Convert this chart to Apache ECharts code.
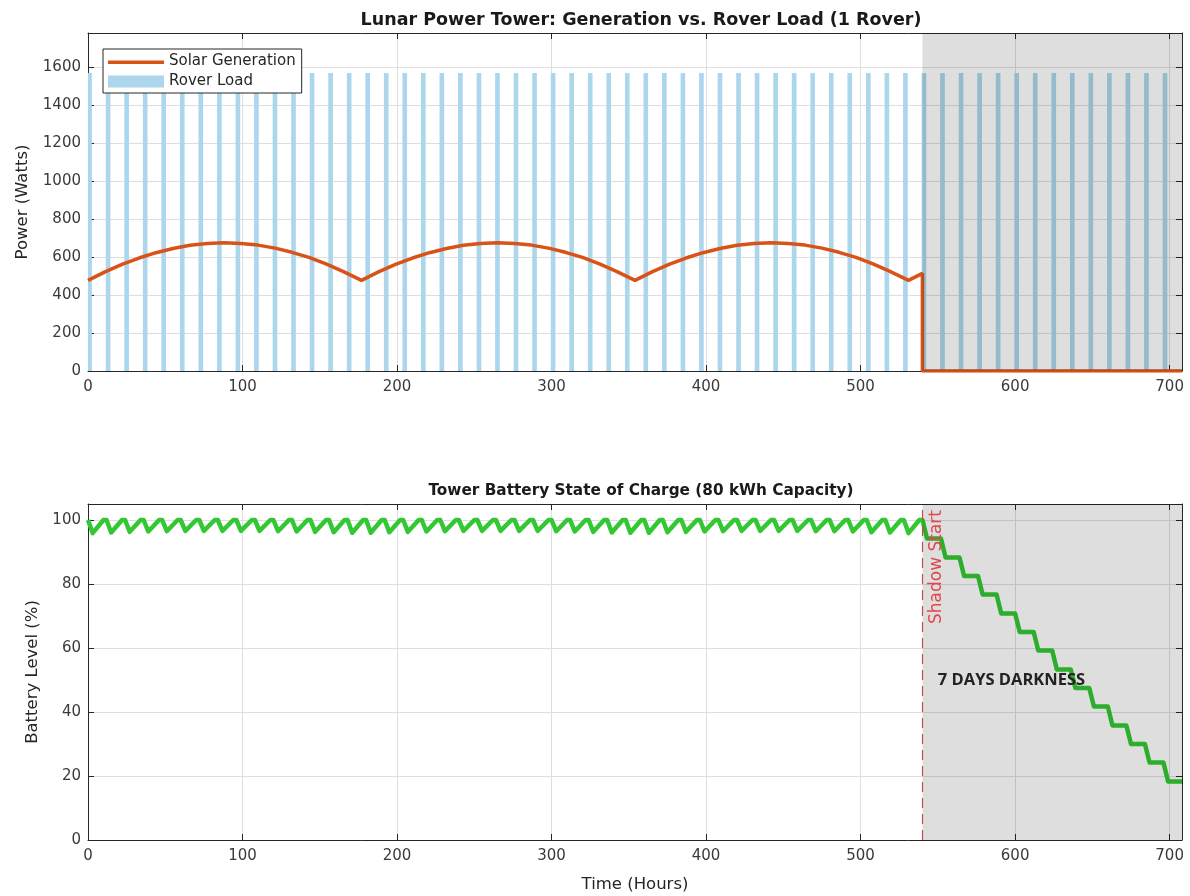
<!DOCTYPE html>
<html>
<head>
<meta charset="utf-8">
<script src="https://cdn.jsdelivr.net/npm/echarts@6/dist/echarts.min.js"></script>
<style>
html,body{margin:0;padding:0;background:#fff;}
#chart{width:1190px;height:896px;}
</style>
</head>
<body>
<div id="chart"></div>
<script>
// ---------- data ----------
const solarHours = [0,11,22,33,44,55,66,77,88,99,110,121,132,143,154,165,177,
  188,199,210,221,232,243,254,265,276,287,298,309,320,331,342,354,
  365,376,387,398,409,420,431,442,453,464,475,486,497,508,519,531,
  540,540,708];
const solarWatts = [477,522,561,595,623,645,662,672,675,672,663,647,625,598,564,525,477,
  522,561,595,623,645,662,672,675,672,663,647,625,598,564,525,477,
  522,561,595,623,645,662,672,675,672,663,647,625,598,564,525,477,
  514,0,0];

const loadHours = [0,12,24,36,48,60,72,84,96,108,120,132,144,156,168,180,192,204,216,228,
  240,252,264,276,288,300,312,324,336,348,360,372,384,396,408,420,432,444,456,468,
  480,492,504,516,528,540,552,564,576,588,600,612,624,636,648,660,672,684,696];
const loadWatts = [1570,1570,1570,1570,1570,1570,1570,1570,1570,1570,1570,1570,1570,1570,1570,
  1570,1570,1570,1570,1570,1570,1570,1570,1570,1570,1570,1570,1570,1570,1570,
  1570,1570,1570,1570,1570,1570,1570,1570,1570,1570,1570,1570,1570,1570,1570,
  1570,1570,1570,1570,1570,1570,1570,1570,1570,1570,1570,1570,1570,1570];
const loadPulse = [-0.5, 2.5]; // pulse extent relative to its hour

const batteryHours = [0,3,10, 12,15,22, 24,27,34, 36,39,46, 48,51,58, 60,63,70, 72,75,82, 84,87,94,
  96,99,106, 108,111,118, 120,123,130, 132,135,142, 144,147,154, 156,159,166, 168,171,178,
  180,183,190, 192,195,202, 204,207,214, 216,219,226, 228,231,238, 240,243,250, 252,255,262,
  264,267,274, 276,279,286, 288,291,298, 300,303,310, 312,315,322, 324,327,334, 336,339,346,
  348,351,358, 360,363,370, 372,375,382, 384,387,394, 396,399,406, 408,411,418, 420,423,430,
  432,435,442, 444,447,454, 456,459,466, 468,471,478, 480,483,490, 492,495,502, 504,507,514,
  516,519,526, 528,531,538,
  540, 543,552, 555,564, 567,576, 579,588, 591,600, 603,612, 615,624, 627,636, 639,648,
  651,660, 663,672, 675,684, 687,696, 699,708];
const batteryLevel = [100,95.9,100, 100,96.1,100, 100,96.3,100, 100,96.4,100, 100,96.5,100,
  100,96.6,100, 100,96.6,100, 100,96.6,100, 100,96.6,100, 100,96.6,100, 100,96.5,100,
  100,96.4,100, 100,96.3,100, 100,96.2,100, 100,96.0,100, 100,96.0,100, 100,96.2,100,
  100,96.3,100, 100,96.4,100, 100,96.5,100, 100,96.6,100, 100,96.6,100, 100,96.6,100,
  100,96.6,100, 100,96.6,100, 100,96.5,100, 100,96.4,100, 100,96.3,100, 100,96.1,100,
  100,96.0,100, 100,96.0,100, 100,96.2,100, 100,96.3,100, 100,96.4,100, 100,96.5,100,
  100,96.6,100, 100,96.6,100, 100,96.6,100, 100,96.6,100, 100,96.5,100, 100,96.5,100,
  100,96.4,100, 100,96.2,100, 100,96.1,100, 100,95.9,100,
  100, 94.2,94.2, 88.3,88.3, 82.5,82.5, 76.7,76.7, 70.8,70.8, 65.0,65.0, 59.2,59.2,
  53.3,53.3, 47.5,47.5, 41.7,41.7, 35.8,35.8, 30.0,30.0, 24.2,24.2, 18.3,18.3];

const shadowStart = 540;
const periodEnd = 708;
const darknessLabel = {hour: 550, level: 50, text: '7 DAYS DARKNESS'};
const shadowLabel = {hour: 549, level: 67.5, text: 'Shadow Start'};

const xTickStep = 100;
const powerMax = 1780, powerStep = 200;
const levelMax = 105, levelStep = 20;

// ---------- style ----------
const AX = '#262626';
const FONT = 'DejaVu Sans';
const GRID_C = '#dedede';
const SHADE = 'rgba(0,0,0,0.13)';
const LOAD_C = '#abd6eb';

function zip(a, b) { return a.map((v, i) => [v, b[i]]); }
const plain = v => String(v);

function mainX(gridIndex, showName) {
  return {
    type: 'value', gridIndex, min: 0, max: periodEnd, interval: xTickStep,
    axisLine: {show: true, onZero: false, lineStyle: {color: AX, width: 1}},
    axisTick: {show: true, inside: true, length: 6, lineStyle: {color: AX}},
    axisLabel: {color: '#3a3a3a', fontFamily: FONT, fontSize: 15, margin: 9, showMaxLabel: false, formatter: plain},
    splitLine: {show: true, lineStyle: {color: GRID_C, width: 1}},
    name: showName ? 'Time (Hours)' : '', nameLocation: 'middle', nameGap: 36,
    nameTextStyle: {color: AX, fontFamily: FONT, fontSize: 16.5}
  };
}
function boxX(gridIndex) {
  return {
    type: 'value', gridIndex, position: 'top', min: 0, max: periodEnd, interval: xTickStep,
    axisLine: {show: true, onZero: false, lineStyle: {color: AX, width: 1}},
    axisTick: {show: true, inside: true, length: 6, lineStyle: {color: AX}},
    axisLabel: {show: false}, splitLine: {show: false}
  };
}
function mainY(gridIndex, max, step, name, gap) {
  return {
    type: 'value', gridIndex, min: 0, max, interval: step,
    axisLine: {show: true, onZero: false, lineStyle: {color: AX, width: 1}},
    axisTick: {show: true, inside: true, length: 6, lineStyle: {color: AX}},
    axisLabel: {color: '#3a3a3a', fontFamily: FONT, fontSize: 15, margin: 7, showMaxLabel: false, formatter: plain},
    splitLine: {show: true, lineStyle: {color: GRID_C, width: 1}},
    name, nameLocation: 'middle', nameGap: gap,
    nameTextStyle: {color: AX, fontFamily: FONT, fontSize: 16.5}
  };
}
function boxY(gridIndex, max, step) {
  return {
    type: 'value', gridIndex, position: 'right', min: 0, max, interval: step,
    axisLine: {show: true, onZero: false, lineStyle: {color: AX, width: 1}},
    axisTick: {show: true, inside: true, length: 6, lineStyle: {color: AX}},
    axisLabel: {show: false}, splitLine: {show: false}
  };
}

function shadeSeries(xi, yi) {
  return {
    type: 'custom', xAxisIndex: xi, yAxisIndex: yi, z: 6, silent: true,
    data: [[shadowStart, periodEnd]],
    renderItem(params, api) {
      const cs = params.coordSys;
      const x0 = api.coord([api.value(0), 0])[0];
      const x1 = api.coord([api.value(1), 0])[0];
      return {type: 'rect', shape: {x: x0, y: cs.y, width: x1 - x0, height: cs.height},
        style: {fill: SHADE}};
    }
  };
}

function textSeries(xi, yi, lab, style, rotation) {
  return {
    type: 'custom', xAxisIndex: xi, yAxisIndex: yi, z: 10, silent: true,
    data: [[lab.hour, lab.level]],
    renderItem(params, api) {
      const p = api.coord([api.value(0), api.value(1)]);
      return {type: 'text', x: p[0], y: p[1], rotation: rotation || 0,
        style: Object.assign({text: lab.text}, style)};
    }
  };
}

const option = {
  animation: false,
  backgroundColor: '#fff',
  title: [
    {text: 'Lunar Power Tower: Generation vs. Rover Load (1 Rover)', left: 636, top: 6, textAlign: 'center',
      textStyle: {fontFamily: FONT, fontWeight: 'bold', fontSize: 17.5, color: '#1a1a1a'}},
    {text: 'Tower Battery State of Charge (80 kWh Capacity)', left: 636, top: 479, textAlign: 'center',
      textStyle: {fontFamily: FONT, fontWeight: 'bold', fontSize: 15.3, color: '#1a1a1a'}}
  ],
  legend: {
    orient: 'vertical', left: 103, top: 49,
    padding: [5, 6, 4, 5], itemGap: 5, itemWidth: 56, itemHeight: 12,
    backgroundColor: '#fff', borderColor: AX, borderWidth: 1,
    textStyle: {fontFamily: FONT, fontSize: 15, color: AX},
    data: [
      {name: 'Solar Generation', icon: 'path://M0,5 L56,5 L56,8.5 L0,8.5 Z M0,0 L0.01,0 M0,12 L0.01,12',
        itemStyle: {color: '#D95319'}},
      {name: 'Rover Load', icon: 'rect'}
    ]
  },
  grid: [
    {left: 88, right: 8, top: 33, height: 338},
    {left: 88, right: 8, top: 504, height: 336}
  ],
  xAxis: [mainX(0, false), boxX(0), mainX(1, true), boxX(1)],
  yAxis: [mainY(0, powerMax, powerStep, 'Power (Watts)', 57), boxY(0, powerMax, powerStep),
          mainY(1, levelMax, levelStep, 'Battery Level (%)', 41), boxY(1, levelMax, levelStep)],
  series: [
    {
      name: 'Rover Load', type: 'custom', xAxisIndex: 0, yAxisIndex: 0, z: 2,
      itemStyle: {color: LOAD_C},
      data: zip(loadHours, loadWatts),
      renderItem(params, api) {
        const h = api.value(0), w = api.value(1);
        const p0 = api.coord([h + loadPulse[0], w]);
        const p1 = api.coord([h + loadPulse[1], 0]);
        const shape = echarts.graphic.clipRectByRect(
          {x: p0[0], y: p0[1], width: p1[0] - p0[0], height: p1[1] - p0[1]},
          {x: params.coordSys.x, y: params.coordSys.y, width: params.coordSys.width, height: params.coordSys.height});
        if (!shape) return null;
        return {type: 'rect', shape, style: {fill: LOAD_C}};
      }
    },
    {
      name: 'Solar Generation', type: 'line', xAxisIndex: 0, yAxisIndex: 0, z: 4,
      data: zip(solarHours, solarWatts), showSymbol: false, symbol: 'none',
      lineStyle: {color: '#D95319', width: 3.5}, itemStyle: {color: '#D95319'}
    },
    shadeSeries(0, 0),
    {
      name: 'Battery', type: 'line', xAxisIndex: 2, yAxisIndex: 2, z: 4,
      data: zip(batteryHours, batteryLevel), showSymbol: false, symbol: 'none',
      lineStyle: {color: '#33c733', width: 4.5, join: 'round'}, itemStyle: {color: '#33c733'},
      markLine: {
        silent: true, symbol: ['none', 'none'], label: {show: false},
        lineStyle: {color: '#d9534f', type: [10, 6], width: 1.2},
        data: [{xAxis: shadowStart}]
      }
    },
    shadeSeries(2, 2),
    textSeries(2, 2, darknessLabel, {fontFamily: 'Open Sans', fontWeight: 'bold', fontSize: 16.5,
      fill: '#222', align: 'left', verticalAlign: 'middle'}),
    textSeries(2, 2, shadowLabel, {fontFamily: FONT, fontSize: 17,
      fill: '#e0474c', align: 'left', verticalAlign: 'middle'}, Math.PI / 2)
  ]
};

const chart = echarts.init(document.getElementById('chart'), null, {renderer: 'canvas'});
chart.setOption(option);
</script>
</body>
</html>
